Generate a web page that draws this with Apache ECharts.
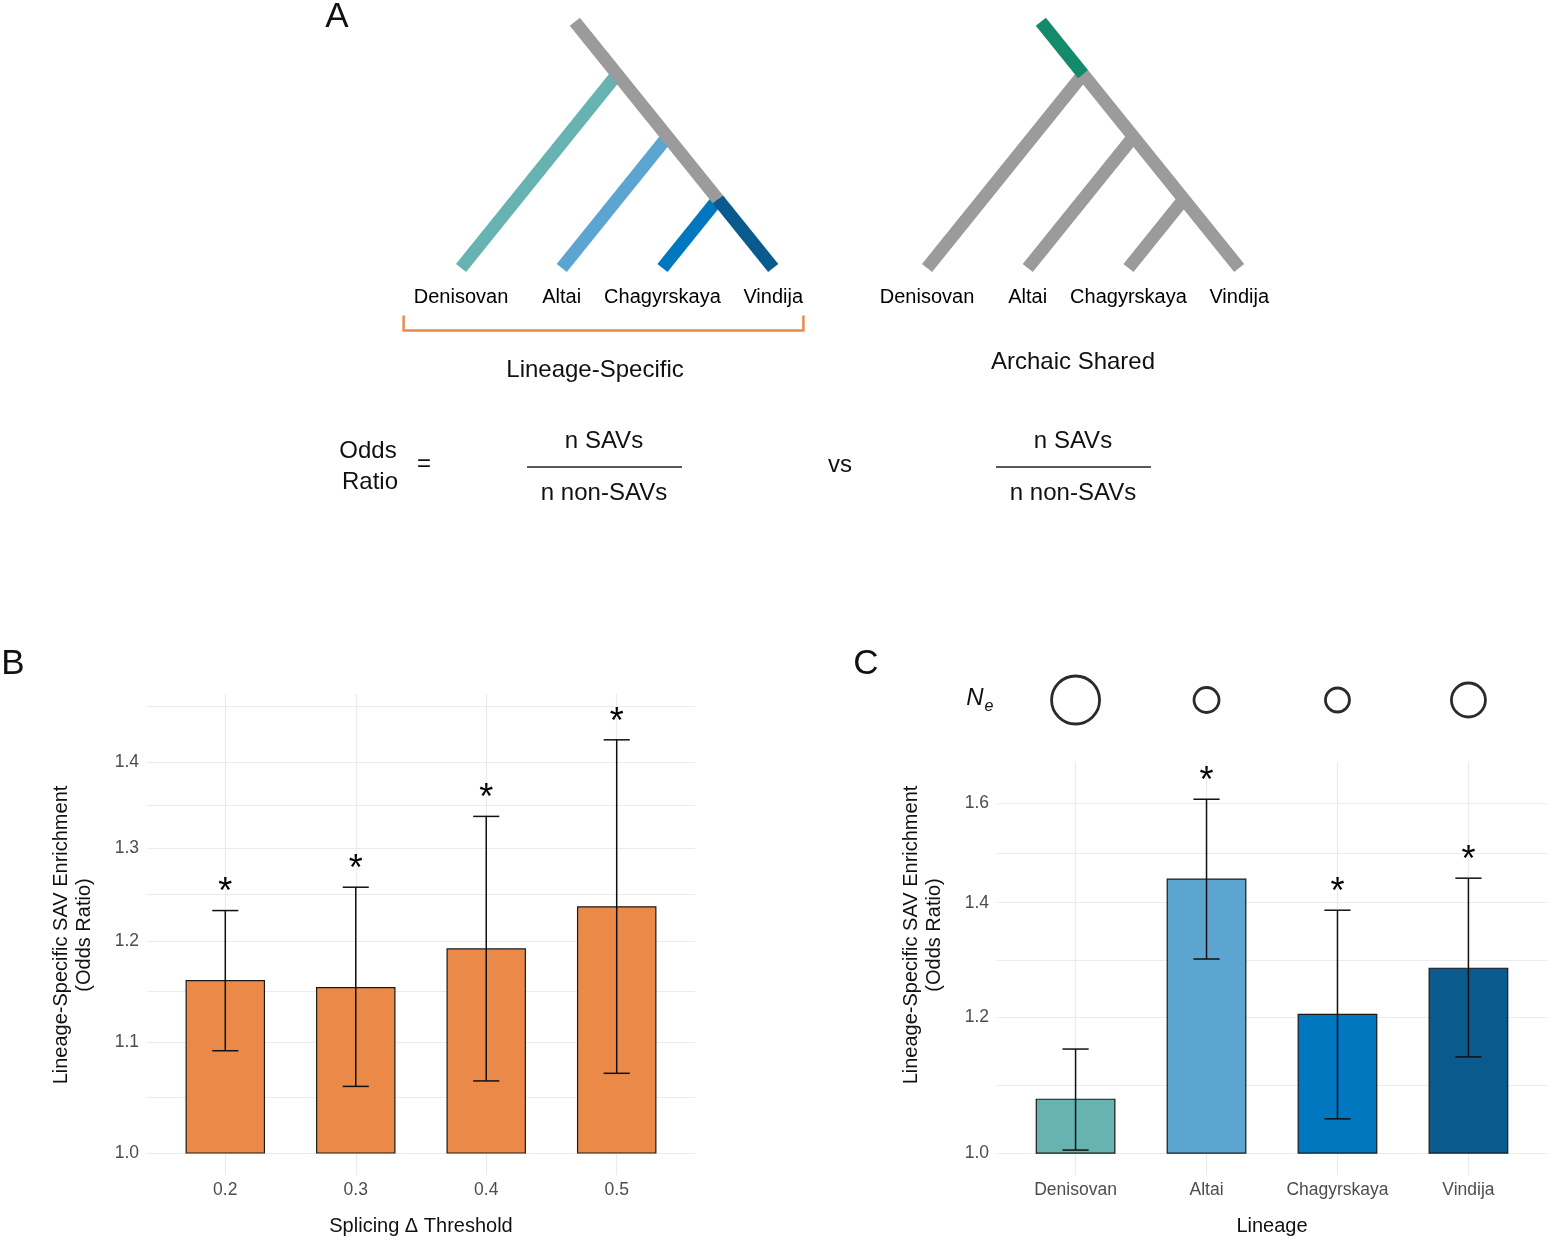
<!DOCTYPE html>
<html>
<head>
<meta charset="utf-8">
<title>Lineage-specific SAV enrichment</title>
<script src="https://cdn.jsdelivr.net/npm/echarts@6.0.0/dist/echarts.min.js"></script>
<style>
  html, body { margin: 0; padding: 0; background: #fff; }
  #main { width: 1554px; height: 1242px; }
</style>
</head>
<body>
<div id="main"></div>
<script>
// ---- data ----
const lineages = ['Denisovan', 'Altai', 'Chagyrskaya', 'Vindija'];
const leafPos = [0, 1, 2, 3.1];       // tree leaf positions (cladogram units)
const rootHeight = 1.97;
const bracketX = [-0.57, 3.4];
const bracketY = [-0.38, -0.5];

const thresholds = ['0.2', '0.3', '0.4', '0.5'];
const threshOR = [1.160, 1.153, 1.192, 1.236];
const threshLo = [1.092, 1.059, 1.064, 1.071];
const threshHi = [1.232, 1.257, 1.336, 1.427];
const threshSig = [1, 1, 1, 1];

const lineageOR = [1.075, 1.445, 1.205, 1.282];
const lineageLo = [1.004, 1.298, 1.047, 1.138];
const lineageHi = [1.150, 1.609, 1.386, 1.447];
const lineageSig = [0, 1, 1, 1];
const neSize = [48, 25, 24, 34];

const ticksB = [1.0, 1.1, 1.2, 1.3, 1.4];
const ticksC = [1.0, 1.2, 1.4, 1.6];

// ---- style ----
const FONT = 'Liberation Sans, Arial, Helvetica, sans-serif';
const lineageColors = ['#67b3b1', '#5ca5d0', '#0077bf', '#0a5a8e'];
const orange = '#eb8a48';
const treeGray = '#9b9b9b';
const rootGreen = '#138a6a';
const gridColor = '#ebebeb';
const barHalf = 0.3, capHalf = 0.1;
const branchWidth = 13;

const lg = v => Math.log10(v);

// minor breaks halfway between majors in log space (ggplot style)
function withMinors(ticks, maxLog) {
  const t = ticks.map(lg);
  const out = t.slice();
  const step = t[1] - t[0];
  const ext = t.concat([t[t.length - 1] + step]);
  for (let i = 0; i < ext.length - 1; i++) {
    const m = (ext[i] + ext[i + 1]) / 2;
    if (m < maxLog) out.push(m);
  }
  return out;
}

// ---- tree geometry ----
const last = leafPos[leafPos.length - 1];
const nodeOf = i => [(leafPos[i] + last) / 2, (last - leafPos[i]) / 2];
const leafPt = i => [leafPos[i], 0];
const rootPt = [last - rootHeight, rootHeight];
const nL = leafPos.length;

function seg(a, b, color) {
  return { coords: [a, b], lineStyle: { color: color, width: branchWidth } };
}
const leftSegs = [];
for (let i = 0; i < nL - 1; i++) leftSegs.push(seg(leafPt(i), nodeOf(i), lineageColors[i]));
leftSegs.push(seg(nodeOf(nL - 2), leafPt(nL - 1), lineageColors[nL - 1]));
leftSegs.push(seg(rootPt, nodeOf(nL - 2), treeGray));

const rightSegs = [];
for (let i = 0; i < nL - 1; i++) rightSegs.push(seg(leafPt(i), nodeOf(i), treeGray));
rightSegs.push(seg(nodeOf(0), leafPt(nL - 1), treeGray));
rightSegs.push(seg(rootPt, nodeOf(0), rootGreen));

const leafLabels = lineages.map((n, i) => [leafPos[i], 0, n]);

// ---- series helpers ----
function barRender(colors) {
  return function (params, api) {
    const x = api.value(0), v = api.value(1);
    const p0 = api.coord([x - barHalf, 0]);
    const p1 = api.coord([x + barHalf, v]);
    return {
      type: 'rect',
      shape: { x: p0[0], y: p1[1], width: p1[0] - p0[0], height: p0[1] - p1[1] },
      style: { fill: colors[params.dataIndex % colors.length], stroke: '#1a1a1a', lineWidth: 1.2 }
    };
  };
}
function errRender(params, api) {
  const x = api.value(0);
  const lo = api.coord([x, api.value(1)]);
  const hi = api.coord([x, api.value(2)]);
  const l = api.coord([x - capHalf, api.value(2)])[0];
  const r = api.coord([x + capHalf, api.value(2)])[0];
  const st = { stroke: '#111', lineWidth: 1.5 };
  const kids = [
    { type: 'line', shape: { x1: lo[0], y1: lo[1], x2: hi[0], y2: hi[1] }, style: st },
    { type: 'line', shape: { x1: l, y1: hi[1], x2: r, y2: hi[1] }, style: st },
    { type: 'line', shape: { x1: l, y1: lo[1], x2: r, y2: lo[1] }, style: st }
  ];
  if (api.value(3)) {
    kids.push({
      type: 'text',
      style: { text: '*', x: hi[0], y: hi[1] - 17, align: 'center', verticalAlign: 'middle',
               font: '36px ' + FONT, fill: '#000' }
    });
  }
  return { type: 'group', children: kids };
}

const barDataB = threshOR.map((v, i) => [i + 1, lg(v)]);
const errDataB = threshOR.map((v, i) => [i + 1, lg(threshLo[i]), lg(threshHi[i]), threshSig[i]]);
const barDataC = lineageOR.map((v, i) => [i + 1, lg(v)]);
const errDataC = lineageOR.map((v, i) => [i + 1, lg(lineageLo[i]), lg(lineageHi[i]), lineageSig[i]]);
const neData = neSize.map((s, i) => [i + 1, 0.5, s]);

const tickLabel = { color: '#4d4d4d', fontSize: 17.5, fontFamily: FONT };
const split = { show: true, lineStyle: { color: gridColor, width: 1.2 } };

function catAxis(gridIndex, names, title) {
  return {
    gridIndex: gridIndex, type: 'value', min: 0.4, max: 4.6,
    axisLine: { show: false },
    axisTick: { show: false, customValues: [1, 2, 3, 4] },
    axisLabel: Object.assign({ customValues: [1, 2, 3, 4], margin: 6,
      formatter: v => names[Math.round(v) - 1] }, tickLabel),
    splitLine: split,
    name: title, nameLocation: 'middle', nameGap: 41,
    nameTextStyle: { fontSize: 20, color: '#111', fontFamily: FONT }
  };
}
function logAxis(gridIndex, ticks, min, max) {
  return {
    gridIndex: gridIndex, type: 'value', min: min, max: max,
    axisLine: { show: false },
    axisTick: { show: false, customValues: withMinors(ticks, max) },
    axisLabel: Object.assign({ customValues: ticks.map(lg), margin: 8,
      formatter: v => Math.pow(10, v).toFixed(1) }, tickLabel),
    splitLine: split
  };
}
const hiddenAxis = (gi, min, max) => ({ gridIndex: gi, type: 'value', min: min, max: max, show: false });

const txt = (text, x, y, size, extra) => ({
  type: 'text', x: x, y: y,
  style: Object.assign({ text: text, font: size + 'px ' + FONT, fill: '#111',
    align: 'center', verticalAlign: 'middle' }, extra || {})
});
const hline = (x1, x2, y) => ({
  type: 'line', shape: { x1: x1, y1: y, x2: x2, y2: y }, style: { stroke: '#222', lineWidth: 1.5 }
});
const leafLabelSeries = (idx) => ({
  type: 'scatter', xAxisIndex: idx, yAxisIndex: idx, symbolSize: 0, silent: true, data: leafLabels,
  itemStyle: { opacity: 1 },
  label: { show: true, position: 'inside', offset: [0, 29], formatter: p => p.value[2],
           fontSize: 20, color: '#000', fontFamily: FONT }
});

const chart = echarts.init(document.getElementById('main'), null, { renderer: 'canvas' });
chart.setOption({
  animation: false,
  backgroundColor: '#fff',
  grid: [
    { left: 400.6, top: 18, width: 412.9, height: 325, outerBoundsMode: 'none' },
    { left: 866.6, top: 18, width: 412.9, height: 325, outerBoundsMode: 'none' },
    { left: 147, top: 694, width: 548, height: 481, outerBoundsMode: 'none' },
    { left: 997, top: 670, width: 550, height: 60, outerBoundsMode: 'none' },
    { left: 997, top: 762, width: 550, height: 413, outerBoundsMode: 'none' }
  ],
  xAxis: [
    hiddenAxis(0, -0.6, 3.5),
    hiddenAxis(1, -0.6, 3.5),
    catAxis(2, thresholds, 'Splicing Δ Threshold'),
    hiddenAxis(3, 0.4, 4.6),
    catAxis(4, lineages, 'Lineage')
  ],
  yAxis: [
    hiddenAxis(0, -0.6, 2),
    hiddenAxis(1, -0.6, 2),
    logAxis(2, ticksB, -0.00822, 0.17155),
    hiddenAxis(3, 0, 1),
    logAxis(4, ticksC, -0.01283, 0.2283)
  ],
  series: [
    { type: 'lines', coordinateSystem: 'cartesian2d', xAxisIndex: 0, yAxisIndex: 0, silent: true,
      lineStyle: { width: branchWidth, opacity: 1, cap: 'butt' }, data: leftSegs },
    { type: 'lines', coordinateSystem: 'cartesian2d', xAxisIndex: 0, yAxisIndex: 0, silent: true,
      polyline: true, lineStyle: { width: 2.5, opacity: 1, color: orange },
      data: [{ coords: [[bracketX[0], bracketY[0]], [bracketX[0], bracketY[1]],
                        [bracketX[1], bracketY[1]], [bracketX[1], bracketY[0]]] }] },
    { type: 'lines', coordinateSystem: 'cartesian2d', xAxisIndex: 1, yAxisIndex: 1, silent: true,
      lineStyle: { width: branchWidth, opacity: 1, cap: 'butt' }, data: rightSegs },
    leafLabelSeries(0),
    leafLabelSeries(1),

    { type: 'custom', xAxisIndex: 2, yAxisIndex: 2, silent: true, renderItem: barRender([orange]), data: barDataB },
    { type: 'custom', xAxisIndex: 2, yAxisIndex: 2, silent: true, renderItem: errRender, data: errDataB },

    { type: 'scatter', xAxisIndex: 3, yAxisIndex: 3, silent: true, data: neData,
      symbolSize: v => v[2],
      itemStyle: { color: 'rgba(0,0,0,0)', borderColor: '#2b2b2b', borderWidth: 2.8, opacity: 1 } },

    { type: 'custom', xAxisIndex: 4, yAxisIndex: 4, silent: true, renderItem: barRender(lineageColors), data: barDataC },
    { type: 'custom', xAxisIndex: 4, yAxisIndex: 4, silent: true, renderItem: errRender, data: errDataC }
  ],
  graphic: [
    txt('A', 337, 17, 35),
    txt('B', 13, 664, 35),
    txt('C', 866, 664, 35),
    txt('Lineage-Specific', 595, 370, 24),
    txt('Archaic Shared', 1073, 362, 24),
    txt('Odds', 368, 451, 24),
    txt('Ratio', 370, 482, 24),
    txt('=', 424, 464, 24),
    txt('n SAVs', 604, 441, 24),
    hline(527, 682, 467),
    txt('n non-SAVs', 604, 493, 24),
    txt('vs', 840, 465, 24),
    txt('n SAVs', 1073, 441, 24),
    hline(996, 1151, 467),
    txt('n non-SAVs', 1073, 493, 24),
    txt('N', 975, 698, 24, { font: 'italic 24px ' + FONT }),
    txt('e', 989, 707, 16, { font: 'italic 16px ' + FONT }),
    Object.assign(txt('Lineage-Specific SAV Enrichment\n(Odds Ratio)', 73, 935, 20,
      { lineHeight: 23 }), { rotation: Math.PI / 2 }),
    Object.assign(txt('Lineage-Specific SAV Enrichment\n(Odds Ratio)', 923, 935, 20,
      { lineHeight: 23 }), { rotation: Math.PI / 2 })
  ]
});
</script>
</body>
</html>
